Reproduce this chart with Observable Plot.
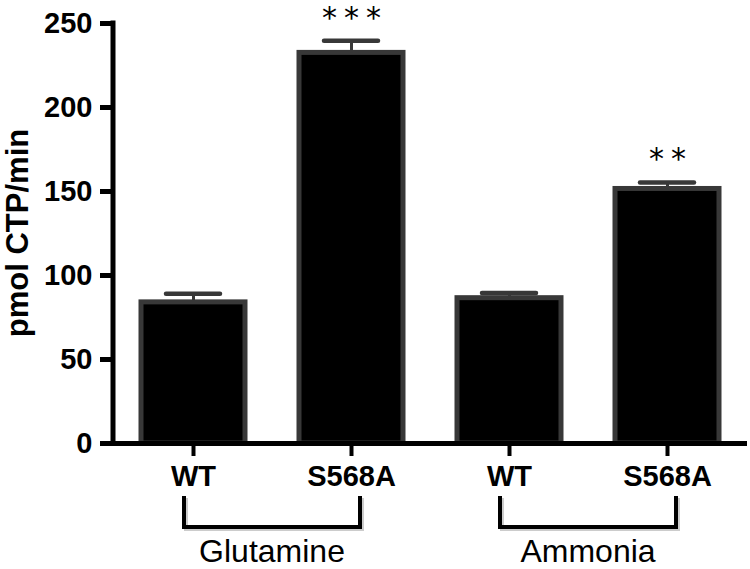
<!DOCTYPE html>
<html><head><meta charset="utf-8">
<script src="https://cdn.jsdelivr.net/npm/d3@7"></script>
<script src="https://cdn.jsdelivr.net/npm/@observablehq/plot@0.6"></script>
<style>body{margin:0;background:#fff}</style>
</head><body><div id="chart"></div>
<script>
const substrates = ["Glutamine", "Glutamine", "Ammonia", "Ammonia"];
const strains = ["WT", "S568A", "WT", "S568A"];
const activity = [84, 232.5, 86.5, 151.5];
const sem = [5.2, 7.3, 3.1, 3.9];
const significance = ["", "***", "", "**"];
const yTicks = [0, 50, 100, 150, 200, 250];
const groupNames = ["Glutamine", "Ammonia"];
const yLabel = "pmol CTP/min";

const rows = strains.map((s, i) => ({
  key: s + " · " + substrates[i], strain: s, substrate: substrates[i],
  value: activity[i], upper: activity[i] + sem[i], sig: significance[i]
}));
const keyToStrain = new Map(rows.map(d => [d.key, d.strain]));

const font = "'Liberation Sans', Arial, Helvetica, sans-serif";
const W = 750, H = 569;

const plot = Plot.plot({
  width: W, height: H,
  marginLeft: 113, marginRight: 3, marginTop: 23, marginBottom: 126,
  style: {fontFamily: font, background: "#fff", color: "#000", overflow: "visible"},
  x: {type: "band", domain: rows.map(d => d.key), paddingInner: 0.344, paddingOuter: 0.17, align: 0.5},
  y: {domain: [0, 250]},
  marks: [
    Plot.barY(rows, {x: "key", y: "value", fill: "#000", stroke: "#383838", strokeWidth: 5}),
    Plot.ruleX(rows, {x: "key", y1: "value", y2: "upper", stroke: "#383838", strokeWidth: 3}),
    Plot.tickY(rows, {x: "key", y: "upper", stroke: "#383838", strokeWidth: 4.5, strokeLinecap: "round", insetLeft: 25, insetRight: 25}),
    Plot.text(rows, {x: "key", y: "upper", text: "sig", fontSize: 30, fontFamily: "'DejaVu Sans', sans-serif", lineAnchor: "bottom", dy: -13, dx: 3.5, fill: "#000"}),
    Plot.ruleY([0], {stroke: "#000", strokeWidth: 5}),
    Plot.axisY({ticks: yTicks, tickSize: 13, tickPadding: 8, strokeWidth: 5, fontSize: 29, fontWeight: "bold", label: null, tickFormat: d => String(d)}),
    Plot.axisX({tickSize: 13, tickPadding: 9, strokeWidth: 4, fontSize: 29, fontWeight: "bold", label: null, tickFormat: k => keyToStrain.get(k)})
  ]
});

const xs = plot.scale("x"), ys = plot.scale("y");
const xc = k => xs.apply(k) + xs.bandwidth / 2;
const svg = d3.select(plot);

svg.selectAll("g[aria-label=text] text").attr("letter-spacing", 7);

// y axis line
const xAxis = 113;
svg.append("line")
  .attr("x1", xAxis).attr("x2", xAxis)
  .attr("y1", ys.apply(yTicks[yTicks.length - 1]) - 2.5).attr("y2", ys.apply(0) + 2.5)
  .attr("stroke", "#000").attr("stroke-width", 5);

// y label
svg.append("text")
  .attr("transform", `translate(28,${(ys.apply(0) + ys.apply(250)) / 2}) rotate(-90)`)
  .attr("text-anchor", "middle")
  .attr("font-family", font).attr("font-weight", "bold").attr("font-size", 31)
  .attr("fill", "#000").text(yLabel);

// group brackets
const y0 = ys.apply(0);
groupNames.forEach(g => {
  const keys = rows.filter(d => d.substrate === g).map(d => d.key);
  const xl = xc(keys[0]) - 9, xr = xc(keys[keys.length - 1]) + 9;
  const yt = y0 + 53, yb = y0 + 84;
  const path = `M${xl},${yt}V${yb}H${xr}V${yt}`;
  svg.append("path").attr("d", path).attr("transform", "translate(2,2)")
    .attr("fill", "none").attr("stroke", "#000").attr("stroke-opacity", 0.2).attr("stroke-width", 4);
  svg.append("path").attr("d", path)
    .attr("fill", "none").attr("stroke", "#000").attr("stroke-width", 4);
  svg.append("text")
    .attr("x", (xl + xr) / 2).attr("y", y0 + 119)
    .attr("text-anchor", "middle")
    .attr("font-family", font).attr("font-size", 32).attr("fill", "#000")
    .text(g);
});

document.getElementById("chart").append(plot);
</script>
</body></html>
